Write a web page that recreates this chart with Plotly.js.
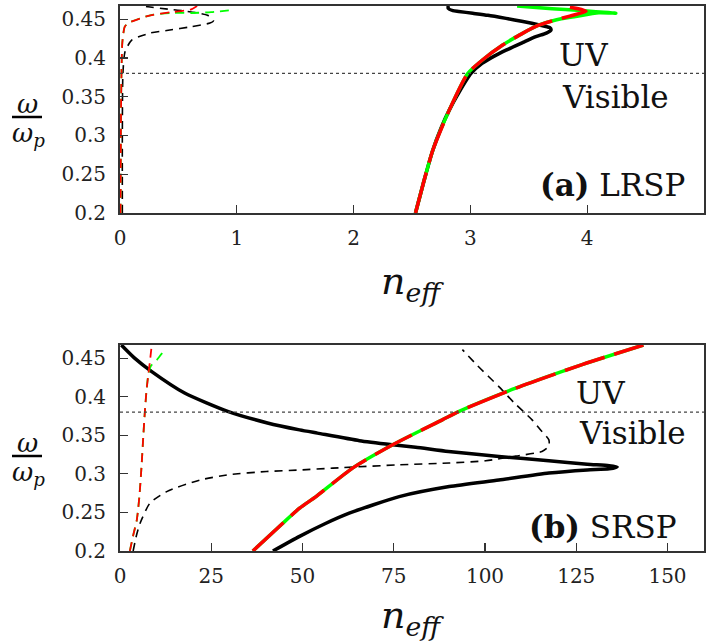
<!DOCTYPE html>
<html>
<head>
<meta charset="utf-8">
<script src="https://cdn.plot.ly/plotly-3.0.1.min.js"></script>
<style>html,body{margin:0;padding:0;background:#fff;}#plot{width:710px;height:641px;}</style>
</head>
<body>
<div id="plot"></div>
<script>
// ---------- Panel (a) LRSP ----------
const aBlackN = [2.53, 2.6, 2.678, 2.75, 2.82, 2.9, 3.005, 3.1, 3.2, 3.305, 3.45, 3.56, 3.65, 3.69, 3.68, 3.59, 3.45, 3.305, 3.15, 3.02, 2.9, 2.85, 2.81, 2.81];
const aBlackW = [0.2, 0.24, 0.281, 0.31, 0.333, 0.355, 0.38, 0.393, 0.402, 0.410, 0.42, 0.4274, 0.432, 0.436, 0.439, 0.4425, 0.447, 0.451, 0.455, 0.4576, 0.46, 0.461, 0.464, 0.467];
const aRedN = [2.53, 2.6, 2.678, 2.82, 2.977, 3.1, 3.276, 3.45, 3.59, 3.73, 3.85, 3.99, 3.95, 3.79];
const aRedW = [0.2, 0.24, 0.281, 0.333, 0.38, 0.397, 0.4167, 0.432, 0.4425, 0.449, 0.454, 0.46, 0.4625, 0.467];
const aGreenN = [2.53, 2.6, 2.678, 2.82, 2.977, 3.1, 3.276, 3.45, 3.59, 3.73, 3.9, 4.1, 4.245, 4.0, 3.7, 3.4];
const aGreenW = [0.2, 0.24, 0.281, 0.333, 0.38, 0.397, 0.4167, 0.432, 0.4425, 0.449, 0.4535, 0.4584, 0.4577, 0.4605, 0.4635, 0.467];
const aBlackDashN = [0.02, 0.02, 0.025, 0.043, 0.1, 0.256, 0.427, 0.6, 0.77, 0.8, 0.75, 0.58, 0.41, 0.24, 0.2];
const aBlackDashW = [0.2, 0.3, 0.38, 0.408, 0.423, 0.432, 0.436, 0.44, 0.445, 0.448, 0.455, 0.46, 0.463, 0.466, 0.467];
const aRedDashN = [0.005, 0.01, 0.02, 0.04, 0.07, 0.26, 0.44, 0.61, 0.66];
const aRedDashW = [0.2, 0.35, 0.42, 0.44, 0.445, 0.455, 0.459, 0.4627, 0.467];
const aGreenDashN = [0.005, 0.01, 0.02, 0.04, 0.07, 0.26, 0.44, 0.61, 0.78, 0.97];
const aGreenDashW = [0.2, 0.35, 0.42, 0.44, 0.445, 0.455, 0.458, 0.458, 0.459, 0.462];

// ---------- Panel (b) SRSP ----------
const bBlackN = [0.36, 4.0, 8.6, 17.7, 29.5, 40.4, 49.2, 54.1, 65.6, 74.7, 81, 90, 103.8, 117.5, 128, 134, 136.2, 134, 128, 117.5, 103.8, 90.2, 76.5, 62.8, 56, 49.2, 41.9];
const bBlackW = [0.467, 0.45, 0.4329, 0.4048, 0.381, 0.366, 0.357, 0.3528, 0.343, 0.3377, 0.3345, 0.329, 0.3225, 0.317, 0.3125, 0.3105, 0.309, 0.3065, 0.305, 0.301, 0.292, 0.2835, 0.2705, 0.249, 0.235, 0.219, 0.2];
const bMainN = [36.4, 44.6, 49.2, 53.7, 63.7, 74.7, 88.3, 92.9, 108.4, 126.6, 143.4];
const bMainW = [0.2, 0.236, 0.2555, 0.2705, 0.3074, 0.3377, 0.370, 0.381, 0.411, 0.4416, 0.467];
const bBlackDashN = [3.6, 4.5, 5.5, 8.2, 12.8, 21.9, 30, 40.1, 49.2, 58.3, 76.5, 90.2, 100.2, 108.4, 115.6, 117.5, 117.5, 115, 112.9, 108, 103.8, 98, 93.8];
const bBlackDashW = [0.2, 0.22, 0.236, 0.262, 0.277, 0.292, 0.299, 0.303, 0.305, 0.3074, 0.3117, 0.314, 0.317, 0.323, 0.329, 0.336, 0.344, 0.358, 0.370, 0.392, 0.413, 0.44, 0.461];
const bRedDashN = [2.7, 3.6, 4.6, 5.3, 5.9, 6.4, 6.8, 7.3, 7.8, 8.3, 8.7];
const bRedDashW = [0.2, 0.22, 0.24, 0.27, 0.31, 0.35, 0.38, 0.41, 0.43, 0.45, 0.467];
const bGreenDashN = [2.7, 3.6, 4.6, 5.3, 5.9, 6.4, 6.8, 7.3, 7.8, 8.5, 10, 11.5, 12.8];
const bGreenDashW = [0.2, 0.22, 0.24, 0.27, 0.31, 0.35, 0.38, 0.41, 0.43, 0.44, 0.447, 0.456, 0.461];

const yTicks = [0.2, 0.25, 0.3, 0.35, 0.4, 0.45];
const yTickText = ['0.2', '0.25', '0.3', '0.35', '0.4', '0.45'];
const aXTicks = [0, 1, 2, 3, 4];
const bXTicks = [0, 25, 50, 75, 100, 125, 150];
const boundary = 0.38;

const FONT = 'DejaVu Serif';
const BLACK = '#000', RED = '#ff0000', GREEN = '#00ff00';

function tr(x, y, color, width, dash, xa, ya) {
  return {x: x, y: y, xaxis: xa, yaxis: ya, mode: 'lines', type: 'scatter', hoverinfo: 'skip',
    line: {color: color, width: width, dash: dash, shape: 'spline', smoothing: 0.6}};
}
const traces = [
  tr(aBlackN, aBlackW, BLACK, 3.5, 'solid', 'x', 'y'),
  tr(aBlackDashN, aBlackDashW, BLACK, 1.6, '8px,6px', 'x', 'y'),
  tr(aGreenN, aGreenW, GREEN, 3.5, 'solid', 'x', 'y'),
  tr(aRedN, aRedW, RED, 3.5, '42px,10px', 'x', 'y'),
  tr(aGreenDashN, aGreenDashW, GREEN, 1.8, '9px,6px', 'x', 'y'),
  tr(aRedDashN, aRedDashW, RED, 1.8, '9px,6px', 'x', 'y'),
  tr(bBlackN, bBlackW, BLACK, 3.5, 'solid', 'x2', 'y2'),
  tr(bBlackDashN, bBlackDashW, BLACK, 1.6, '8px,6px', 'x2', 'y2'),
  tr(bMainN, bMainW, GREEN, 3.5, 'solid', 'x2', 'y2'),
  tr(bMainN, bMainW, RED, 3.5, '42px,10px', 'x2', 'y2'),
  tr(bGreenDashN, bGreenDashW, GREEN, 1.8, '9px,6px', 'x2', 'y2'),
  tr(bRedDashN, bRedDashW, RED, 1.8, '9px,6px', 'x2', 'y2')
];

const L = 120, R = 6, T = 6, B = 90, W = 710, H = 641;
const PW = W - L - R, PH = H - T - B;
const px = v => (v - L) / PW;
const py = v => (H - B - v) / PH;

const axBase = {
  showline: true, mirror: true, linecolor: '#333', linewidth: 2,
  ticks: 'inside', ticklen: 8, tickwidth: 1.2, tickcolor: '#333',
  showgrid: false, zeroline: false, fixedrange: true,
  tickfont: {family: FONT, size: 20, color: '#222'}
};
const layout = {
  width: W, height: H, showlegend: false,
  font: {family: FONT},
  paper_bgcolor: '#fff', plot_bgcolor: '#fff',
  margin: {l: L, r: R, t: T, b: B},
  xaxis: Object.assign({}, axBase, {domain: [0, 1], range: [0, 5], tickvals: aXTicks, anchor: 'y', ticklabelstandoff: 6}),
  yaxis: Object.assign({}, axBase, {domain: [py(213), 1], range: [0.2, 0.467], tickvals: yTicks, ticktext: yTickText, anchor: 'x', ticklabelstandoff: 8}),
  xaxis2: Object.assign({}, axBase, {domain: [0, 1], range: [0, 160], tickvals: bXTicks, anchor: 'y2', ticklabelstandoff: 6}),
  yaxis2: Object.assign({}, axBase, {domain: [0, py(345)], range: [0.2, 0.467], tickvals: yTicks, ticktext: yTickText, anchor: 'x2', ticklabelstandoff: 8}),
  shapes: [
    {type: 'line', xref: 'x domain', yref: 'y', x0: 0, x1: 1, y0: boundary, y1: boundary, line: {color: '#444', width: 1.2, dash: 'dot'}},
    {type: 'line', xref: 'x2 domain', yref: 'y2', x0: 0, x1: 1, y0: boundary, y1: boundary, line: {color: '#444', width: 1.2, dash: 'dot'}},
    {type: 'line', xref: 'paper', yref: 'paper', x0: px(12), x1: px(42), y0: py(117), y1: py(117), line: {color: '#000', width: 2.5}},
    {type: 'line', xref: 'paper', yref: 'paper', x0: px(12), x1: px(42), y0: py(456), y1: py(456), line: {color: '#000', width: 2.5}}
  ],
  annotations: []
};
function ann(text, x, y, size, xref, yref, extra) {
  layout.annotations.push(Object.assign({text: text, x: x, y: y, xref: xref, yref: yref, showarrow: false,
    xanchor: 'center', yanchor: 'middle', font: {family: FONT, size: size, color: '#111'}}, extra || {}));
}
// panel texts
ann('UV', 3.966, 0.4038, 31, 'x', 'y');
ann('Visible', 4.239, 0.3495, 31, 'x', 'y');
ann('<b>(a)</b> LRSP', 4.214, 0.236, 31, 'x', 'y');
ann('UV', 131.7, 0.405, 31, 'x2', 'y2');
ann('Visible', 140.4, 0.3532, 31, 'x2', 'y2');
ann('<b>(b)</b> SRSP', 132.2, 0.231, 31, 'x2', 'y2');
// y titles (fraction)
ann('<i>ω</i>', px(27), py(104), 26, 'paper', 'paper');
ann('<i>ω<sub>p</sub></i>', px(28), py(134), 26, 'paper', 'paper');
ann('<i>ω</i>', px(27), py(443), 26, 'paper', 'paper');
ann('<i>ω<sub>p</sub></i>', px(28), py(473), 26, 'paper', 'paper');
// x titles
ann('<i>n<sub>eff</sub></i>', px(412), py(284), 38, 'paper', 'paper');
ann('<i>n<sub>eff</sub></i>', px(412), py(617), 38, 'paper', 'paper');

Plotly.newPlot('plot', traces, layout, {staticPlot: true, displayModeBar: false});
</script>
</body>
</html>
